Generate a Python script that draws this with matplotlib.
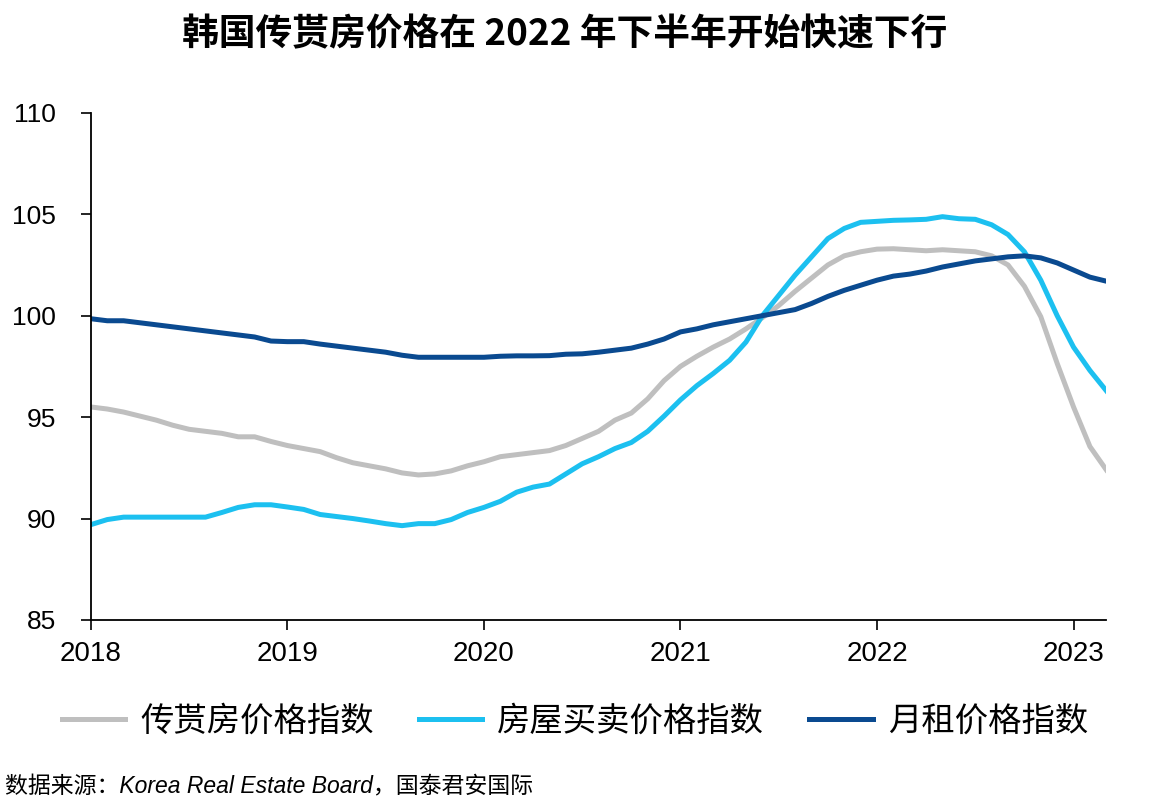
import numpy as np
import matplotlib

matplotlib.use('Agg')
import matplotlib.pyplot as plt

plt.rcParams['font.family'] = ['Liberation Sans', 'Noto Sans CJK SC', 'DejaVu Sans']
plt.rcParams['axes.unicode_minus'] = False

# ── 数据 (2018-01 ~ 2023-03, 月度) ──
start_year = 2018
jeonse = [95.5, 95.4, 95.25, 95.05, 94.85, 94.6, 94.4, 94.3, 94.2, 94.03, 94.03, 93.8,
          93.6, 93.45, 93.3, 93.0, 92.75, 92.6, 92.45, 92.25, 92.15, 92.2, 92.35, 92.6,
          92.8, 93.05, 93.15, 93.25, 93.35, 93.6, 93.95, 94.3, 94.85, 95.2, 95.9, 96.8,
          97.5, 98.0, 98.45, 98.85, 99.35, 99.9, 100.5, 101.2, 101.85, 102.5, 102.95, 103.15,
          103.28, 103.3, 103.25, 103.2, 103.25, 103.2, 103.15, 102.95, 102.5, 101.45, 99.95, 97.65,
          95.5, 93.55, 92.4]
sale = [89.7, 89.95, 90.07, 90.07, 90.07, 90.07, 90.07, 90.07, 90.3, 90.55, 90.68, 90.68,
        90.57, 90.45, 90.2, 90.1, 90.0, 89.88, 89.75, 89.65, 89.75, 89.75, 89.95, 90.3,
        90.55, 90.85, 91.3, 91.55, 91.7, 92.2, 92.7, 93.05, 93.45, 93.75, 94.3, 95.05,
        95.85, 96.55, 97.15, 97.8, 98.7, 100.0, 101.0, 102.0, 102.9, 103.8, 104.3, 104.6,
        104.65, 104.7, 104.72, 104.75, 104.88, 104.78, 104.75, 104.48, 104.0, 103.15, 101.75, 100.0,
        98.45, 97.3, 96.3]
rent = [99.85, 99.75, 99.75, 99.65, 99.55, 99.45, 99.35, 99.25, 99.15, 99.05, 98.95, 98.75,
        98.72, 98.72, 98.6, 98.5, 98.4, 98.3, 98.2, 98.05, 97.95, 97.95, 97.95, 97.95,
        97.95, 98.0, 98.02, 98.02, 98.03, 98.1, 98.12, 98.2, 98.3, 98.4, 98.6, 98.85,
        99.2, 99.35, 99.55, 99.7, 99.85, 100.0, 100.15, 100.3, 100.6, 100.95, 101.25, 101.5,
        101.75, 101.95, 102.05, 102.2, 102.4, 102.55, 102.7, 102.8, 102.9, 102.95, 102.85, 102.6,
        102.25, 101.9, 101.7]
series_names = ['传贳房价格指数', '房屋买卖价格指数', '月租价格指数']
year_ticks = [2018, 2019, 2020, 2021, 2022, 2023]
y_ticks = [85, 90, 95, 100, 105, 110]

x = start_year + np.arange(len(jeonse)) / 12.0

fig = plt.figure(figsize=(11.5, 8), dpi=100)
ax = fig.add_axes([0.079, 0.225, 0.883, 0.634])

ax.plot(x, jeonse, color='#BFBFBF', lw=3.6, label=series_names[0])
ax.plot(x, sale, color='#1CC0F0', lw=3.6, label=series_names[1])
ax.plot(x, rent, color='#0A4A90', lw=3.6, label=series_names[2])

ax.set_xlim(x[0], x[-1])
ax.set_ylim(85, 110)
ax.set_xticks(year_ticks)
ax.set_xticklabels([str(y) for y in year_ticks])
ax.set_yticks(y_ticks)
ax.tick_params(axis='both', length=7, width=1.2, direction='out', colors='black')
ax.tick_params(axis='y', labelsize=19, pad=18)
ax.tick_params(axis='x', labelsize=20, pad=8)
for s in ['top', 'right']:
    ax.spines[s].set_visible(False)
for s in ['left', 'bottom']:
    ax.spines[s].set_linewidth(1.3)

fig.text(0.491, 0.956, '韩国传贳房价格在 2022 年下半年开始快速下行', ha='center', va='center',
         fontsize=26.5, fontweight='bold', family=['Noto Sans CJK SC', 'DejaVu Sans'])

fig.legend(loc='center', bbox_to_anchor=(0.5, 0.099), ncol=3, frameon=False,
           prop={'family': ['Noto Sans CJK SC', 'DejaVu Sans'], 'size': 24},
           handlelength=1.9, handletextpad=0.45, columnspacing=1.35)

fig.text(0.004, 0.016, '数据来源：Korea Real Estate Board，国泰君安国际', ha='left', va='center',
         fontsize=16.5, style='italic', family=['Liberation Sans', 'Noto Sans CJK SC'])

fig.savefig('out.png', dpi=100)
